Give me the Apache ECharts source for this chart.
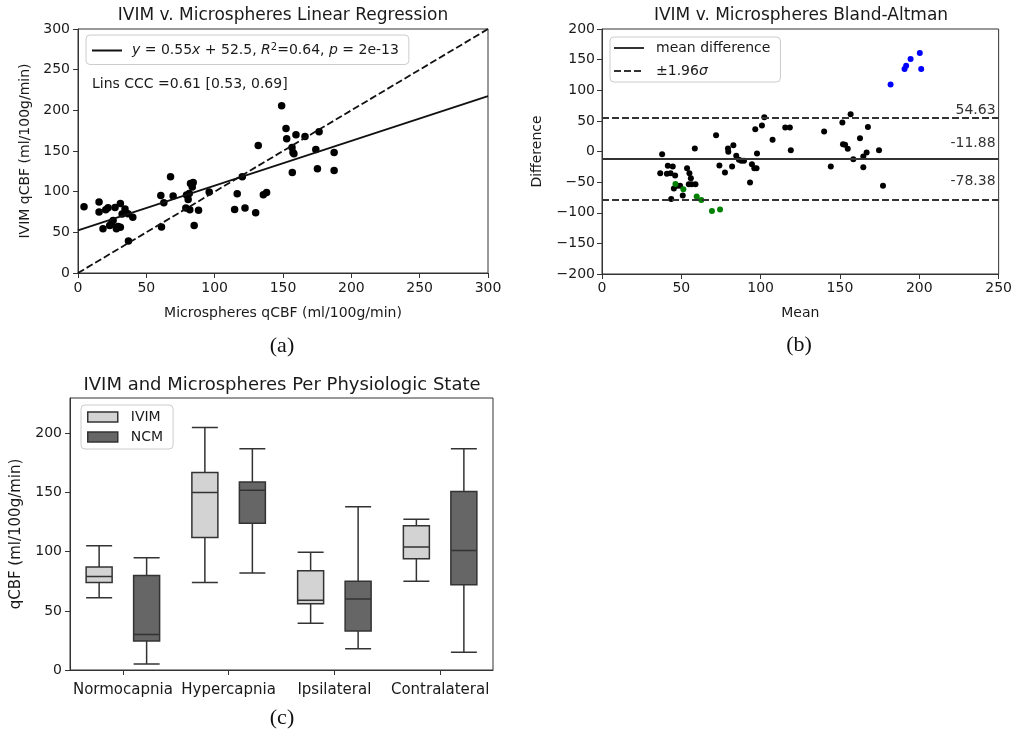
<!DOCTYPE html>
<html>
<head>
<meta charset="utf-8">
<script src="https://cdn.jsdelivr.net/npm/echarts@6/dist/echarts.min.js"></script>
<style>
  html, body { margin: 0; padding: 0; background: #fff; }
  #chart { width: 1015px; height: 741px; }
</style>
</head>
<body>
<div id="chart"></div>
<script>
// (a) microspheres qCBF (x) vs IVIM qCBF (y)
var regPoints = [
  [4.4,81.5],[15.4,87.2],[15.4,74.9],[18.3,54.4],[20.3,77.8],[22.0,80.2],[23.2,58.5],[24.4,60.6],
  [25.7,64.7],[27.1,80.6],[28.1,54.4],[29.3,57.3],[31.0,85.5],[31.0,56.1],[32.3,72.5],[34.4,78.6],
  [36.6,72.9],[36.9,39.3],[40.1,68.4],
  [60.6,95.4],[61.1,56.5],[62.8,86.4],[67.7,118.3],[69.6,94.6],[79.4,95.8],[78.9,79.8],[80.6,90.5],
  [81.4,97.8],[82.3,110.1],[84.3,111.3],[83.6,105.6],[81.8,77.8],[85.0,58.5],[88.2,77],[96.0,99.5],
  [114.6,78.2],[116.5,97.4],[120.2,118.3],[122.2,79.8],[130,74.1],[131.9,156.8],[135.6,96.2],[138,99.1],
  [149,205.5],[152.2,177.6],[152.7,165],[156.6,154.3],[157.3,148.2],[158,146.5],[156.8,123.6],
  [159.5,169.9],[166.1,167.8],[174,151.9],[175.2,128.1],[176.4,173.6],[187.4,148.2],[187.4,126.1]
];
var fitLine = [[0,52.5],[300,217.5]];
var identityLine = [[0,0],[300,300]];

// (b) Bland-Altman: [mean, difference]
var baBlack = [
  [37.9,-4.4],[36.7,-35.4],[41.5,-23.4],[40.9,-36.5],[43.2,-35.4],[44.6,-24.5],[43.6,-77.4],[46.1,-39.2],
  [45.3,-60.5],[47.4,-56.1],[49.2,-56.1],[50.9,-71.9],[53.6,-27.2],[55.1,-35.4],[56,-43.6],[54.7,-53.4],
  [56.4,-53.4],[58.9,-53.4],[58.5,4.9],[71.9,26.7],[74,-22.9],[77.5,-34.3],[79.4,4.9],[79.6,-0.5],
  [82.8,10.4],[82,-24.5],[84.6,-7.1],[86.3,-13.6],[87.8,-15.3],[89.5,-15.3],[93.3,-50.7],[94.5,-20.7],
  [96,-27.2],[97.4,-27.2],[96.6,36.5],[97.7,-3.3],[100.8,42.5],[102.3,56.1],[107.5,19.1],[115.5,39.2],
  [118.4,39.2],[119,2.2],[140,32.7],[144.2,-24.5],[151.5,47.4],[151.9,12],[153.2,10.9],[154.9,4.4],
  [156.7,61],[158.4,-12.5],[162.6,21.8],[164.7,-8.2],[164.7,-25.6],[166.8,-1.6],[167.6,39.8],[174.6,2.2],
  [177.1,-56.1]
];
var baGreen = [[46.3,-52.9],[51.3,-61.6],[59.7,-73.6],[62.6,-79],[69.3,-97],[74.4,-94.8]];
var baBlue = [[181.9,109.5],[190.7,134.6],[191.7,140],[194.5,151],[200.3,160.8],[201.2,134.6]];
var meanDiff = -11.88;
var upperLoA = 54.63;
var lowerLoA = -78.38;

// (c) box plots: [min, q1, median, q3, max]
var states = ['Normocapnia', 'Hypercapnia', 'Ipsilateral', 'Contralateral'];
var ivimBox = [[61,74,79,87,105],[74,112,150,167,205],[39.5,56,59,84,99.5],[75,94,104,122,127.5]];
var ncmBox = [[5,24.5,30,80,95],[82,124,152,159,187],[18,33,60,75,138],[15,72,101,151,187]];
var boxTicks = [0, 50, 100, 150, 200];

var FONT = 'DejaVu Sans';
var INK = '#1a1a1a';
var EDGE = '#333';

function minus(v) { return String(v).replace('-', '\u2212'); }

function valueAxis(gridIndex, min, max, interval, name, nameGap, margin) {
  return {
    type: 'value', gridIndex: gridIndex, min: min, max: max, interval: interval,
    name: name, nameLocation: 'middle', nameGap: nameGap,
    nameTextStyle: {color: INK, fontSize: 14, fontFamily: FONT},
    axisLine: {show: true, onZero: false, lineStyle: {color: EDGE, width: 1}},
    axisTick: {show: true, length: 5, lineStyle: {color: EDGE}},
    splitLine: {show: false},
    axisLabel: {color: INK, fontSize: 14, fontFamily: FONT, margin: margin, formatter: minus}
  };
}

var legendBox = {
  backgroundColor: 'rgba(255,255,255,0.8)', borderColor: '#ccc', borderWidth: 1, borderRadius: 4,
  selectedMode: false, orient: 'vertical'
};
// hide the marker that line series put in the middle of their legend icon
var noMarker = {color: 'rgba(0,0,0,0)', borderWidth: 0, opacity: 0};

var chart = echarts.init(document.getElementById('chart'));
var option = {
  animation: false,
  backgroundColor: '#fff',
  title: [
    {text: 'IVIM v. Microspheres Linear Regression', left: 283, top: 16, textAlign: 'center', textVerticalAlign: 'middle', padding: 0,
     textStyle: {fontFamily: FONT, fontSize: 17, fontWeight: 'normal', color: INK}},
    {text: 'IVIM v. Microspheres Bland-Altman', left: 801, top: 16, textAlign: 'center', textVerticalAlign: 'middle', padding: 0,
     textStyle: {fontFamily: FONT, fontSize: 17, fontWeight: 'normal', color: INK}},
    {text: 'IVIM and Microspheres Per Physiologic State', left: 282, top: 385, textAlign: 'center', textVerticalAlign: 'middle', padding: 0,
     textStyle: {fontFamily: FONT, fontSize: 18, fontWeight: 'normal', color: INK}},
    {text: '(a)', left: 282, top: 346, textAlign: 'center', textVerticalAlign: 'middle', padding: 0,
     textStyle: {fontFamily: 'Liberation Serif', fontSize: 22, fontWeight: 'normal', color: '#111'}},
    {text: '(b)', left: 799, top: 345, textAlign: 'center', textVerticalAlign: 'middle', padding: 0,
     textStyle: {fontFamily: 'Liberation Serif', fontSize: 22, fontWeight: 'normal', color: '#111'}},
    {text: '(c)', left: 282, top: 718, textAlign: 'center', textVerticalAlign: 'middle', padding: 0,
     textStyle: {fontFamily: 'Liberation Serif', fontSize: 22, fontWeight: 'normal', color: '#111'}}
  ],
  grid: [
    {left: 78, top: 29, width: 410, height: 244, show: true, borderColor: EDGE, borderWidth: 1},
    {left: 602, top: 29, width: 398, height: 245, show: true, borderColor: EDGE, borderWidth: 1},
    {left: 70, top: 398, width: 423, height: 272, show: true, borderColor: EDGE, borderWidth: 1}
  ],
  xAxis: [
    valueAxis(0, 0, 300, 50, 'Microspheres qCBF (ml/100g/min)', 33, 8),
    valueAxis(1, 0, 250, 50, 'Mean', 32, 7),
    {
      type: 'category', gridIndex: 2, data: states,
      axisLine: {show: true, lineStyle: {color: EDGE, width: 1}},
      axisTick: {show: true, alignWithLabel: true, length: 5, lineStyle: {color: EDGE}},
      axisLabel: {color: INK, fontSize: 15, fontFamily: FONT, margin: 13, interval: 0},
      splitLine: {show: false}
    }
  ],
  yAxis: [
    valueAxis(0, 0, 300, 50, 'IVIM qCBF (ml/100g/min)', 46, 8),
    valueAxis(1, -200, 200, 50, 'Difference', 58, 7),
    (function () {
      var a = valueAxis(2, 0, 230, 50, 'qCBF (ml/100g/min)', 46, 8);
      a.nameTextStyle.fontSize = 15;
      a.axisLabel.customValues = boxTicks;
      a.axisTick.customValues = boxTicks;
      return a;
    })()
  ],
  legend: [
    Object.assign({}, legendBox, {
      data: ['fit'], left: 86, top: 35, padding: [7, 10, 7, 5], itemWidth: 30, itemHeight: 14,
      itemStyle: noMarker,
      formatter: function () { return '{i|y} = 0.55{i|x} + 52.5, {i|R}{s|2}=0.64, {i|p} = 2e-13'; },
      textStyle: {color: INK, fontSize: 14, fontFamily: FONT, padding: [0, 0, 0, 5],
        rich: {
          i: {fontStyle: 'italic', fontSize: 14, fontFamily: FONT, color: INK},
          s: {fontSize: 10, fontFamily: FONT, color: INK, padding: [0, 0, 7, 0]}
        }}
    }),
    Object.assign({}, legendBox, {
      data: ['mean difference', '\u00b11.96\u03c3'], left: 610, top: 37, padding: [4, 10, 4, 3],
      itemWidth: 30, itemHeight: 14, itemGap: 9, itemStyle: noMarker,
      formatter: function (n) { return n === 'mean difference' ? n : '\u00b11.96{i|\u03c3}'; },
      textStyle: {color: INK, fontSize: 14, fontFamily: FONT, padding: [0, 0, 0, 7],
        rich: {i: {fontStyle: 'italic', fontSize: 14, fontFamily: FONT, color: INK}}}
    }),
    Object.assign({}, legendBox, {
      left: 81, top: 405, padding: [5, 10, 5, 6], itemWidth: 30, itemHeight: 10, itemGap: 6,
      data: [
        {name: 'IVIM', icon: 'rect', itemStyle: {color: '#d3d3d3', borderColor: EDGE, borderWidth: 1.5}},
        {name: 'NCM', icon: 'rect', itemStyle: {color: '#666666', borderColor: EDGE, borderWidth: 1.5}}
      ],
      textStyle: {color: INK, fontSize: 14, fontFamily: FONT, padding: [0, 0, 0, 8]}
    })
  ],
  graphic: [
    {type: 'text', left: 92, top: 77, style: {text: 'Lins CCC =0.61 [0.53, 0.69]', font: '14px "DejaVu Sans"', fill: INK}}
  ],
  series: [
    {type: 'scatter', xAxisIndex: 0, yAxisIndex: 0, data: regPoints, symbolSize: 7.5,
     itemStyle: {color: '#000', opacity: 1}, silent: true},
    {type: 'line', name: 'fit', xAxisIndex: 0, yAxisIndex: 0, data: fitLine, symbol: 'none',
     lineStyle: {color: '#111', width: 1.8}, itemStyle: {color: '#111'}},
    {type: 'line', name: 'identity', xAxisIndex: 0, yAxisIndex: 0, data: identityLine, symbol: 'none',
     lineStyle: {color: '#111', width: 1.8, type: [7, 3]}},
    {type: 'scatter', xAxisIndex: 1, yAxisIndex: 1, data: baBlack, symbolSize: 6, itemStyle: {color: '#000', opacity: 1}},
    {type: 'scatter', xAxisIndex: 1, yAxisIndex: 1, data: baGreen, symbolSize: 6, itemStyle: {color: '#008000', opacity: 1}},
    {type: 'scatter', xAxisIndex: 1, yAxisIndex: 1, data: baBlue, symbolSize: 6, itemStyle: {color: '#0000ff', opacity: 1}},
    {type: 'line', name: 'mean difference', xAxisIndex: 1, yAxisIndex: 1, data: [], symbol: 'none',
     lineStyle: {color: EDGE, width: 1.8}, itemStyle: {color: EDGE},
     markLine: {silent: true, symbol: ['none', 'none'], lineStyle: {color: EDGE, width: 1.8, type: 'solid'},
       label: {show: true, position: 'insideEndTop', color: EDGE, fontSize: 14, fontFamily: FONT, distance: [3, 8],
         formatter: function (p) { return p.value.toFixed(2); }},
       data: [{yAxis: meanDiff}]}},
    {type: 'line', name: '\u00b11.96\u03c3', xAxisIndex: 1, yAxisIndex: 1, data: [], symbol: 'none',
     lineStyle: {color: EDGE, width: 1.8, type: [7, 3]}, itemStyle: {color: EDGE},
     markLine: {silent: true, symbol: ['none', 'none'], lineStyle: {color: EDGE, width: 1.8, type: [7, 3]},
       label: {show: true, position: 'insideEndTop', color: EDGE, fontSize: 14, fontFamily: FONT,
         formatter: function (p) { return p.value.toFixed(2); }},
       data: [{yAxis: upperLoA, label: {distance: [3, 1]}}, {yAxis: lowerLoA, label: {distance: [3, 11]}}]}},
    {type: 'boxplot', name: 'IVIM', xAxisIndex: 2, yAxisIndex: 2, data: ivimBox, boxWidth: [26, 26],
     itemStyle: {color: '#d3d3d3', borderColor: EDGE, borderWidth: 1.5}},
    {type: 'boxplot', name: 'NCM', xAxisIndex: 2, yAxisIndex: 2, data: ncmBox, boxWidth: [26, 26],
     itemStyle: {color: '#666666', borderColor: EDGE, borderWidth: 1.5}}
  ]
};
chart.setOption(option);
</script>
</body>
</html>
